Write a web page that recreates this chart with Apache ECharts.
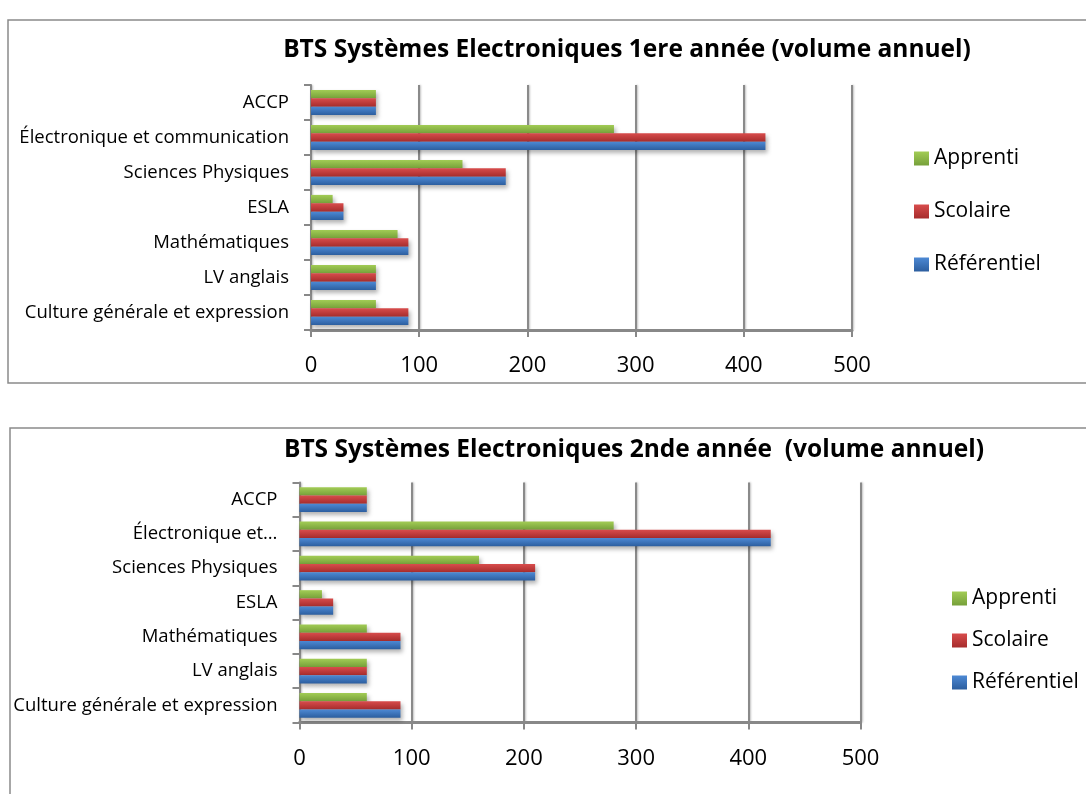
<!DOCTYPE html>
<html>
<head>
<meta charset="utf-8">
<script src="https://cdn.jsdelivr.net/npm/echarts@6/dist/echarts.min.js"></script>
<style>
html,body{margin:0;padding:0;background:#fff;}
#c{width:1086px;height:794px;}
</style>
</head>
<body>
<div id="c"></div>
<script>
// ---- data ----
const categories = ['Culture générale et expression','LV anglais','Mathématiques','ESLA','Sciences Physiques','Électronique et communication','ACCP'];
const tickLabels2 = ['Culture générale et expression','LV anglais','Mathématiques','ESLA','Sciences Physiques','Électronique et…','ACCP'];
const seriesNames = ['Apprenti','Scolaire','Référentiel'];
const title1 = 'BTS Systèmes Electroniques 1ere année (volume annuel)';
const title2 = 'BTS Systèmes Electroniques 2nde année  (volume annuel)';
const referentiel1 = [90,60,90,30,180,420,60];
const scolaire1    = [90,60,90,30,180,420,60];
const apprenti1    = [60,60,80,20,140,280,60];
const referentiel2 = [90,60,90,30,210,420,60];
const scolaire2    = [90,60,90,30,210,420,60];
const apprenti2    = [60,60,60,20,160,280,60];
const xMin = 0, xMax = 500, xStep = 100;

// ---- styles ----
const FONT = 'Open Sans';
function grad(top, bottom){
  return new echarts.graphic.LinearGradient(0,0,0,1,[{offset:0,color:top},{offset:1,color:bottom}]);
}
const colors = {
  'Apprenti': grad('#a2cc55','#76a03a'),
  'Scolaire': grad('#d84c4c','#a62c2c'),
  'Référentiel': grad('#4d89d4','#2c5e9f')
};
const gridLine = {color:'#8a8a8a', width:2, shadowBlur:2, shadowOffsetX:1, shadowColor:'rgba(0,0,0,0.25)'};

function xAxisFor(gi){
  return {
    type:'value', gridIndex:gi, min:xMin, max:xMax, interval:xStep,
    axisLine:{show:true, lineStyle:{color:'#888', width:3}},
    axisTick:{show:true, length:7, lineStyle:{color:'#888', width:2}},
    splitLine:{show:true, lineStyle:gridLine},
    axisLabel:{color:'#000', fontFamily:FONT, fontSize:22, margin:25}
  };
}
function yAxisFor(gi, labels){
  return {
    type:'category', gridIndex:gi, data:categories,
    axisLine:{show:true, lineStyle:{color:'#888', width:2}},
    axisTick:{show:true, length:7, lineStyle:{color:'#888', width:2}},
    axisLabel:{color:'#000', fontFamily:FONT, fontSize:18.5, margin:22,
      formatter:(v, i)=>labels[i]}
  };
}
function barSeries(name, data, gi){
  return {
    type:'bar', name, data, xAxisIndex:gi, yAxisIndex:gi,
    barWidth:'24%', barGap:'0%',
    itemStyle:{color:colors[name], shadowBlur:4, shadowOffsetX:2, shadowOffsetY:3, shadowColor:'rgba(0,0,0,0.3)'},
    emphasis:{disabled:true}
  };
}
function legendFor(left, top, gap){
  return {
    orient:'vertical', left, top, padding:0, itemGap:gap, itemWidth:15, itemHeight:14,
    icon:'rect', data:seriesNames,
    textStyle:{color:'#000', fontFamily:FONT, fontSize:21, lineHeight:21}
  };
}

const chart = echarts.init(document.getElementById('c'));
chart.setOption({
  animation:false,
  backgroundColor:'#fff',
  title:[
    {text:title1, left:627, top:38, textAlign:'center', padding:0,
     textStyle:{fontFamily:FONT, fontWeight:'bold', fontSize:24.5, color:'#000'}},
    {text:title2, left:634, top:438, textAlign:'center', padding:0,
     textStyle:{fontFamily:FONT, fontWeight:'bold', fontSize:24.5, color:'#000'}}
  ],
  legend:[legendFor(914, 148, 32), legendFor(952, 588, 21)],
  grid:[
    {left:311, top:85, width:541, height:245},
    {left:299.5, top:482.5, width:561, height:240}
  ],
  xAxis:[xAxisFor(0), xAxisFor(1)],
  yAxis:[yAxisFor(0, categories), yAxisFor(1, tickLabels2)],
  series:[
    barSeries('Apprenti', apprenti1, 0),
    barSeries('Scolaire', scolaire1, 0),
    barSeries('Référentiel', referentiel1, 0),
    barSeries('Apprenti', apprenti2, 1),
    barSeries('Scolaire', scolaire2, 1),
    barSeries('Référentiel', referentiel2, 1)
  ],
  graphic:[
    {type:'rect', shape:{x:8, y:20, width:1100, height:363}, style:{fill:'none', stroke:'#8a8a8a', lineWidth:1.5}, silent:true, z:-10},
    {type:'rect', shape:{x:10, y:428, width:1100, height:420}, style:{fill:'none', stroke:'#8a8a8a', lineWidth:1.5}, silent:true, z:-10}
  ]
});
</script>
</body>
</html>
